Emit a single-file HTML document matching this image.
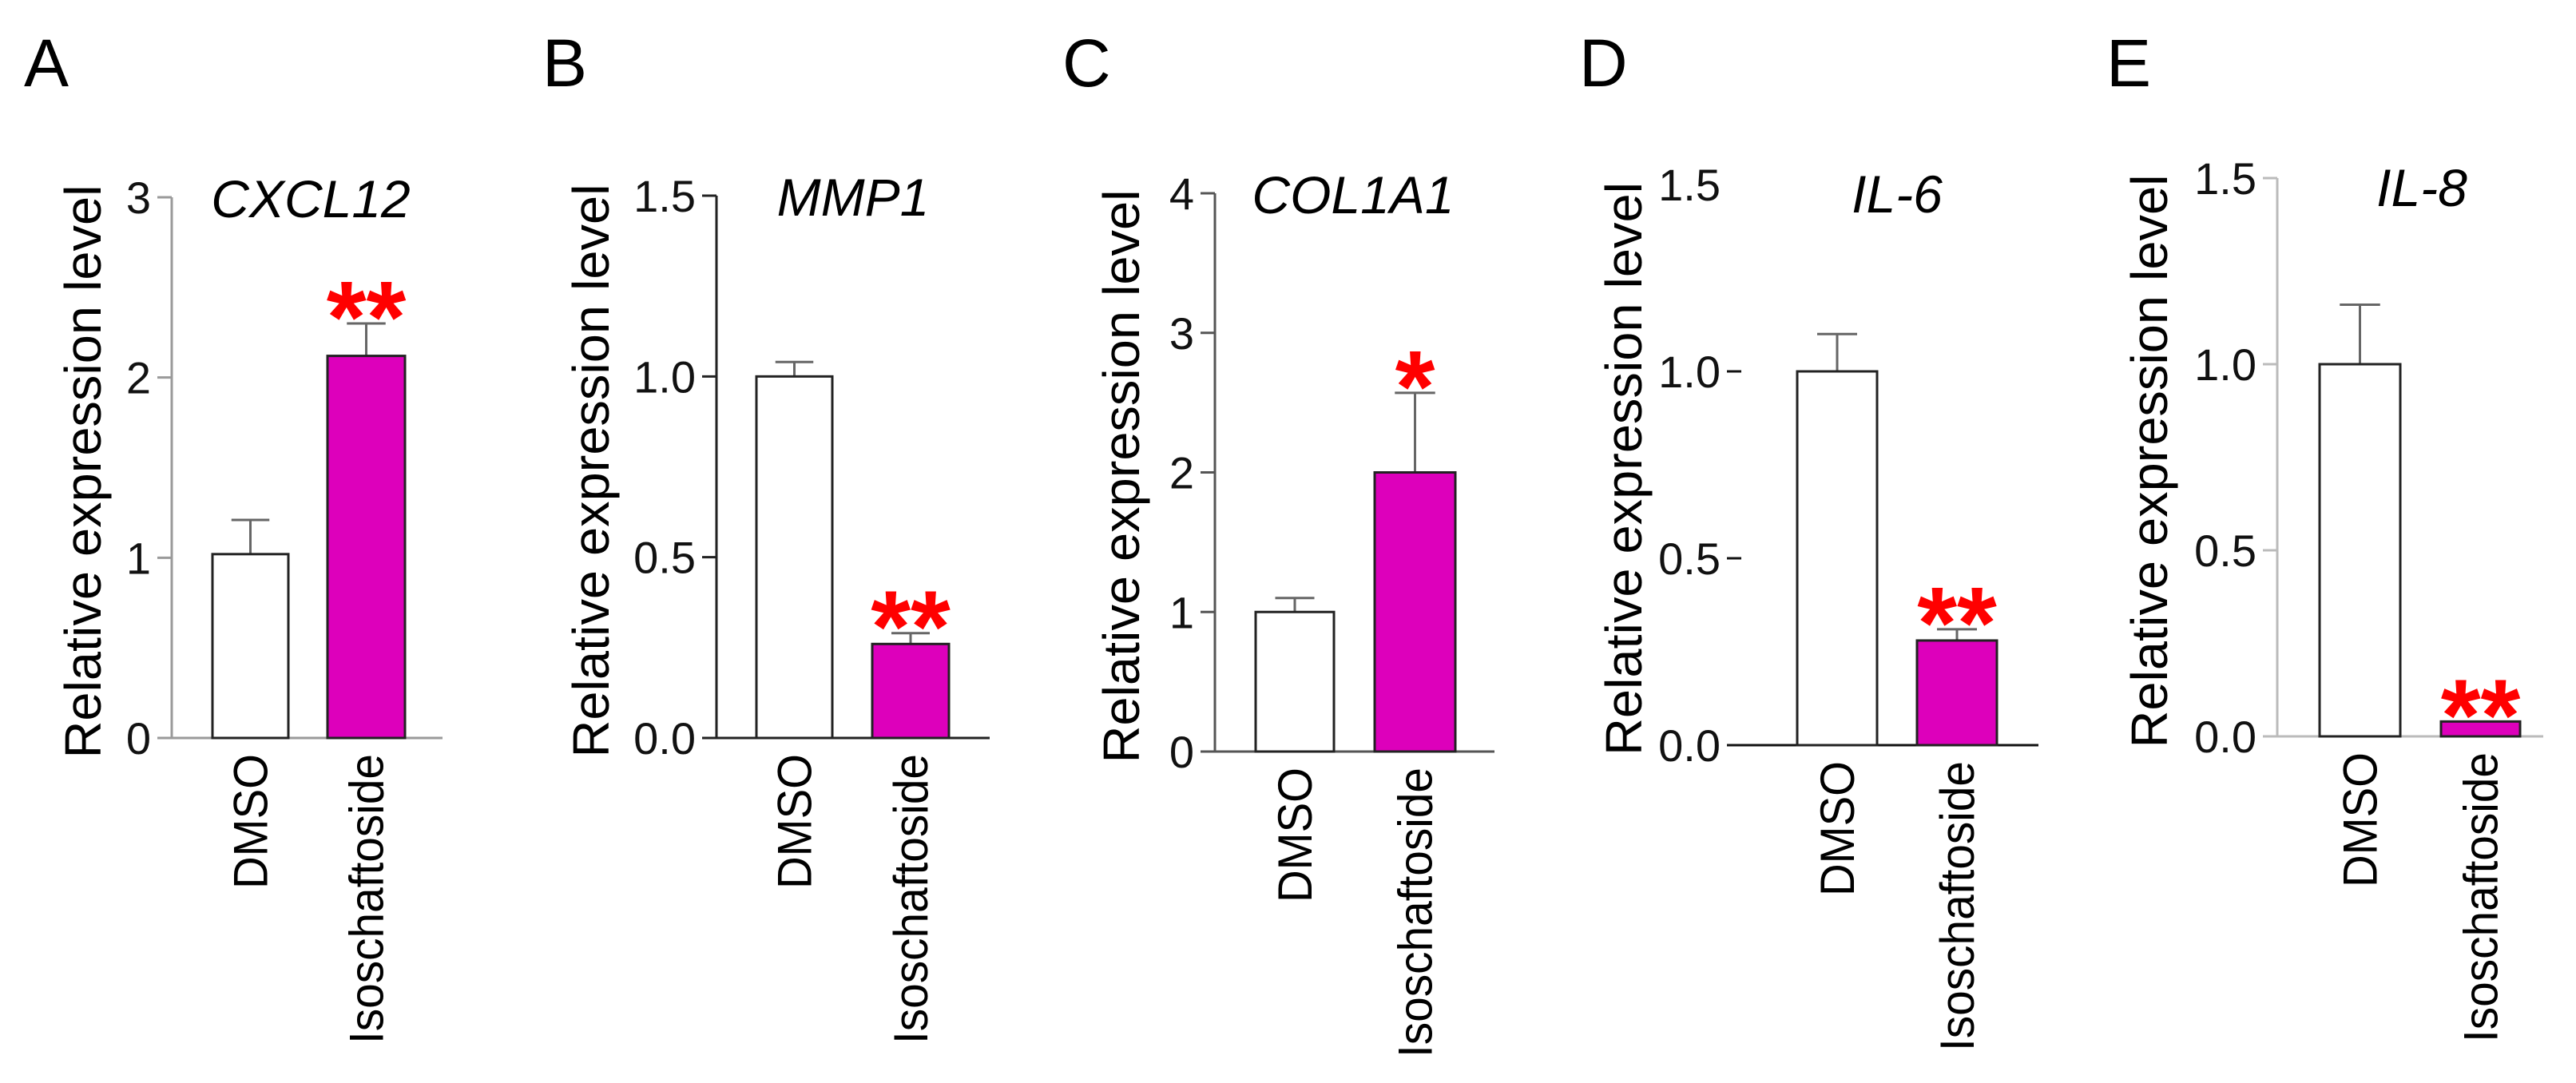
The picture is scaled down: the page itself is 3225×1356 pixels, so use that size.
<!DOCTYPE html>
<html><head><meta charset="utf-8"><style>
html,body{margin:0;padding:0;background:#fff;}
svg{display:block;font-family:"Liberation Sans",Arial,sans-serif;}
</style></head><body>
<svg id="fig" width="3225" height="1356" viewBox="0 0 3225 1356" xmlns="http://www.w3.org/2000/svg"></svg>
<script>
const categories = ["DMSO", "Isoschaftoside"];
const genes = ["CXCL12", "MMP1", "COL1A1", "IL-6", "IL-8"];
const letters = ["A", "B", "C", "D", "E"];
const meansA = [1.02, 2.12];
const errA = [1.21, 2.30];
const meansB = [1.0, 0.26];
const errB = [1.04, 0.29];
const meansC = [1.0, 2.0];
const errC = [1.10, 2.57];
const meansD = [1.0, 0.28];
const errD = [1.10, 0.31];
const meansE = [1.0, 0.04];
const errE = [1.16, 0.04];
const sigLabels = ["**", "**", "*", "**", "**"];
const ticksA = [0, 1, 2, 3];
const ticksB = [0, 0.5, 1.0, 1.5];
const ticksC = [0, 1, 2, 3, 4];
const ticksD = [0, 0.5, 1.0, 1.5];
const ticksE = [0, 0.5, 1.0, 1.5];
const tickTextA = ["0", "1", "2", "3"];
const tickTextB = ["0.0", "0.5", "1.0", "1.5"];
const tickTextC = ["0", "1", "2", "3", "4"];
const tickTextD = ["0.0", "0.5", "1.0", "1.5"];
const tickTextE = ["0.0", "0.5", "1.0", "1.5"];

const layout = [
 {letterX:30, axisX:215, yTop:247, y0:924, xEnd:554, bars:[[266,361],[410,507]], ylabX:104, titleX:389, axisCol:"#9a9a9a", showAxis:true, tickMarks:[true,true,true,true]},
 {letterX:679, axisX:897, yTop:245, y0:924, xEnd:1239, bars:[[947,1042],[1092,1188]], ylabX:740, titleX:1068, axisCol:"#222", showAxis:true, tickMarks:[true,true,true,true]},
 {letterX:1330, axisX:1521, yTop:242, y0:941, xEnd:1871, bars:[[1572,1670],[1721,1822]], ylabX:1404, titleX:1694, axisCol:"#555", showAxis:true, tickMarks:[true,true,true,true,true]},
 {letterX:1977, axisX:2180, yTop:231, y0:933, xEnd:2552, bars:[[2250,2350],[2400,2500]], ylabX:2033, titleX:2375, axisCol:"#111", showAxis:false, tickMarks:[false,true,true,false]},
 {letterX:2637, axisX:2851, yTop:223, y0:922, xEnd:3184, bars:[[2904,3005],[3056,3155]], ylabX:2691, titleX:3032, axisCol:"#bbb", showAxis:true, tickMarks:[true,true,true,true]}
];
const meansAll = [meansA, meansB, meansC, meansD, meansE];
const errAll = [errA, errB, errC, errD, errE];
const ticksAll = [ticksA, ticksB, ticksC, ticksD, ticksE];
const tickTextAll = [tickTextA, tickTextB, tickTextC, tickTextD, tickTextE];

const NS = "http://www.w3.org/2000/svg";
const svg = document.getElementById("fig");
function mk(tag, attrs, parent, text){
  const e = document.createElementNS(NS, tag);
  for (const k in attrs) e.setAttribute(k, attrs[k]);
  if (text !== undefined) e.textContent = text;
  parent.appendChild(e);
  return e;
}

layout.forEach((L, p) => {
  const ticks = ticksAll[p];
  const yMax = ticks[ticks.length - 1];
  const y = v => L.y0 - (v / yMax) * (L.y0 - L.yTop);
  const g = mk("g", {}, svg);
  
  

  const lt = mk("text", {x:L.letterX, y:108, "font-size":84, fill:"#000"}, g, letters[p]);
  
  

  const yl = mk("text", {x:0, y:0, transform:"translate(" + (L.ylabX + 22) + "," + ((L.y0 + L.yTop) / 2 + 5) + ") rotate(-90)", "text-anchor":"middle", "font-size":64, textLength:718, lengthAdjust:"spacingAndGlyphs", fill:"#000"}, g, "Relative expression level");
  
  

  const tt = mk("text", {x:L.titleX, y:L.yTop + 25 + (p===3||p===4 ? 10 : 0), "text-anchor":"middle", "font-size":66, "font-style":"italic", fill:"#000"}, g, genes[p]);
  
  

  if (L.showAxis) {
    const ax = mk("line", {x1:L.axisX, y1:L.yTop, x2:L.axisX, y2:L.y0, stroke:L.axisCol, "stroke-width":3}, g);
    
    
  }
  const bl = mk("line", {x1:L.axisX - 18, y1:L.y0, x2:L.xEnd, y2:L.y0, stroke:L.axisCol, "stroke-width":3}, g);
  
  

  ticks.forEach((t, i) => {
    const ty = y(t);
    if (L.tickMarks[i]) {
      const tm = mk("line", {x1:L.axisX - 18, y1:ty, x2:L.axisX, y2:ty, stroke:L.axisCol, "stroke-width":3}, g);
      
      
    }
    const tl = mk("text", {x:L.axisX - 26, y:ty + 20, "text-anchor":"end", "font-size":56, fill:"#111"}, g, tickTextAll[p][i]);
    
    
  });

  categories.forEach((c, i) => {
    const [bx0, bx1] = L.bars[i];
    const v = meansAll[p][i];
    const e = errAll[p][i];
    const top = y(v);
    const cx = (bx0 + bx1) / 2;
    const bw = bx1 - bx0;
    if (e > v) {
      const el = mk("line", {x1:cx, y1:y(e), x2:cx, y2:top, stroke:"#666", "stroke-width":3}, g);
      
      
      const cap = mk("line", {x1:cx - bw / 4, y1:y(e), x2:cx + bw / 4, y2:y(e), stroke:"#666", "stroke-width":3}, g);
      
      
    }
    const r = mk("rect", {x:bx0, y:top, width:bw, height:L.y0 - top, fill:i === 0 ? "#fff" : "#dd00bb", stroke:"#222", "stroke-width":3}, g);
    
    

    const cl = mk("text", {x:0, y:0, transform:"translate(" + (cx + 21) + "," + (L.y0 + 20) + ") rotate(-90)", "text-anchor":"end", "font-size":60, textLength:i === 0 ? 169 : 363, lengthAdjust:"spacingAndGlyphs", fill:"#000"}, g, c);
    
    

    if (i === 1) {
      const st = mk("text", {x:cx, y:y(Math.max(e, v)) + 36, "text-anchor":"middle", "font-size":128, "font-weight":"bold", fill:"#ff0000"}, g, sigLabels[p]);
      
      
    }
  });
});
</script>
</body></html>
